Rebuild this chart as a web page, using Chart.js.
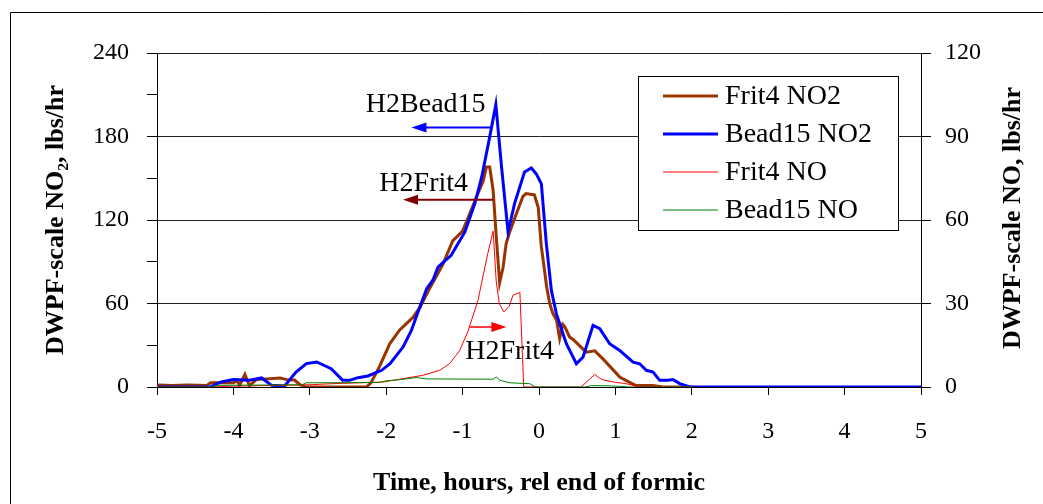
<!DOCTYPE html>
<html>
<head>
<meta charset="utf-8">
<script src="https://cdn.jsdelivr.net/npm/chart.js@4.4.0/dist/chart.umd.min.js"></script>
<style>
  body { margin: 0; background: #fff; }
  canvas { display: block; }
</style>
</head>
<body>
<canvas id="myChart" width="1043" height="504"></canvas>
<script>
// hours, rel end of formic  /  lbs/hr
const frit4_no2_t = [-5.0, -4.8, -4.6, -4.35, -4.3, -4.0, -3.95, -3.92, -3.85, -3.79, -3.7, -3.39, -3.3, -3.2, -3.13, -3.05,
  -2.26, -2.2, -2.085, -1.954, -1.823, -1.65, -1.56, -1.45, -1.34, -1.26, -1.13, -1.0, -0.91, -0.8, -0.73, -0.69, -0.645,
  -0.6, -0.558, -0.515, -0.47, -0.43, -0.38, -0.3, -0.21, -0.17, -0.06, -0.01, 0.03, 0.05, 0.1, 0.14, 0.18, 0.23, 0.27,
  0.31, 0.34, 0.4, 0.45, 0.58, 0.62, 0.73, 0.84, 1.06, 1.27, 1.49, 1.62, 2.0];
const frit4_no2 = [1.5, 1, 1.5, 1, 3, 3, 4.8, 1, 9, 1, 5.3, 6.5, 5.3, 5, 1.7, 0,
  0, 3, 15, 31, 41, 50, 57, 69, 80, 88, 105, 112, 124, 139, 148, 158, 158,
  141, 107, 75, 86, 103, 112, 124, 137, 139, 138, 129, 101, 93, 72, 60, 53, 48, 35,
  45, 43, 36, 34, 27, 25, 26, 20, 7, 1, 1, 0, 0];

const bead15_no2_t = [-5.0, -4.31, -4.16, -4.0, -3.79, -3.63, -3.5, -3.33, -3.18, -3.045, -2.91, -2.72, -2.57, -2.48,
  -2.37, -2.24, -2.06, -1.95, -1.78, -1.67, -1.56, -1.47, -1.39, -1.32, -1.15, -0.97, -0.84, -0.75, -0.645, -0.565,
  -0.49, -0.405, -0.32, -0.19, -0.1, -0.034, 0.031, 0.096, 0.162, 0.227, 0.358, 0.489, 0.576, 0.707, 0.795, 0.925,
  1.056, 1.231, 1.318, 1.405, 1.493, 1.58, 1.689, 1.754, 1.842, 1.973, 5];
const bead15_no2 = [0, 0, 3.6, 5.3, 4.8, 6.5, 1.2, 0.7, 10.8, 16.8, 18, 13.2, 4.8, 4.8,
  6.7, 7.9, 12, 16.8, 28.7, 40.7, 57.5, 70.7, 76.7, 86.3, 94.6, 111.4, 131.8, 150.9, 179.7, 203,
  158, 111.4, 131.8, 154.5, 157.4, 153, 146, 103, 69.4, 52.7, 31.1, 16.7, 21.5, 44.3, 41.9, 31.1,
  26.3, 17.9, 16.7, 12, 10.8, 4.8, 4.8, 5.3, 2.4, 0, 0];

// NO series go on the right axis (0-120)
const frit4_no_t = [-5.0, -4.3, -4.0, -3.0, -2.7, -2.04, -1.78, -1.52, -1.3, -1.17, -1.04, -0.93, -0.8, -0.67, -0.6,
  -0.56, -0.52, -0.46, -0.39, -0.34, -0.25, -0.2, 0.55, 0.73, 0.82, 0.97, 1.14, 1.27, 1.4, 2.0];
const frit4_no = [0, 0, 0.3, 0.8, 1.2, 1.8, 3, 4.2, 6, 8.4, 13, 20, 31, 48, 56,
  38, 30, 27, 29, 33, 34, 0, 0, 4.5, 2.7, 1.8, 1.2, 0.3, 0, 0];

const bead15_no_t = [-5.0, -4.3, -4.2, -3.1, -3.05, -2.1, -2.0, -1.8, -1.6, -1.47, -0.6, -0.56, -0.51, -0.38, -0.12,
  -0.05, 0.6, 0.69, 0.95, 1.2, 2.0];
const bead15_no = [0, 0, 0.6, 0.8, 1.5, 1.6, 2.2, 2.7, 3.4, 2.9, 2.8, 3.6, 2.4, 1.5, 1.2,
  0, 0, 0.5, 0.4, 0, 0];

const xTicks = [-5, 5, 1];
const yLeft = [0, 240, 60];
const yRight = [0, 120, 30];

// arrows + labels, in data units of the left axis
const notes = [
  { text: 'H2Bead15', tx: -1.483, ty: 197.3, color: '#0000FF', from: -0.632, to: -1.670, ay: 186.4, w: 2 },
  { text: 'H2Frit4', tx: -1.509, ty: 140.6, color: '#800000', from: -0.602, to: -1.780, ay: 134.6, w: 2 },
  { text: 'H2Frit4', tx: -0.384, ty: 20.4, color: '#FF0000', from: -0.907, to: -0.427, ay: 43.1, w: 1.5 }
];

function pts(t, v) {
  return t.map(function(x, i){ return {x: x, y: v[i]}; });
}

const serif = "'Liberation Serif', 'Times New Roman', serif";
Chart.defaults.font.family = serif;
Chart.defaults.color = '#000';

const extras = {
  id: 'extras',
  afterDraw: function(chart) {
    const ctx = chart.ctx;
    const xs = chart.scales.x, ys = chart.scales.y;
    ctx.save();
    // outer frame
    ctx.strokeStyle = '#000';
    ctx.lineWidth = 1;
    ctx.beginPath();
    ctx.moveTo(10.5, 504);
    ctx.lineTo(10.5, 12.5);
    ctx.lineTo(1043, 12.5);
    ctx.stroke();

    // annotations
    notes.forEach(function(n){
      const x1 = xs.getPixelForValue(n.from), x2 = xs.getPixelForValue(n.to);
      const y = ys.getPixelForValue(n.ay);
      const dir = x2 > x1 ? 1 : -1;
      ctx.strokeStyle = n.color;
      ctx.fillStyle = n.color;
      ctx.lineWidth = n.w;
      ctx.beginPath();
      ctx.moveTo(x1, y);
      ctx.lineTo(x2 - dir * 10, y);
      ctx.stroke();
      ctx.beginPath();
      ctx.moveTo(x2, y);
      ctx.lineTo(x2 - dir * 15, y - 5);
      ctx.lineTo(x2 - dir * 15, y + 5);
      ctx.closePath();
      ctx.fill();
      ctx.fillStyle = '#000';
      ctx.font = '28px ' + serif;
      ctx.textAlign = 'center';
      ctx.textBaseline = 'alphabetic';
      ctx.fillText(n.text, xs.getPixelForValue(n.tx), ys.getPixelForValue(n.ty));
    });

    // legend
    const bx = 638, by = 76, bw = 260, bh = 154;
    ctx.fillStyle = '#fff';
    ctx.fillRect(bx, by, bw, bh);
    ctx.strokeStyle = '#000';
    ctx.lineWidth = 1;
    ctx.strokeRect(bx + 0.5, by + 0.5, bw, bh);
    ctx.font = '28px ' + serif;
    ctx.textAlign = 'left';
    ctx.textBaseline = 'middle';
    chart.data.datasets.forEach(function(ds, i){
      const y = by + 20 + i * 38;
      ctx.strokeStyle = ds.borderColor;
      ctx.lineWidth = ds.borderWidth;
      ctx.beginPath();
      ctx.moveTo(bx + 25, y);
      ctx.lineTo(bx + 80, y);
      ctx.stroke();
      ctx.fillStyle = '#000';
      ctx.fillText(ds.label, bx + 87, y + 1);
    });

    // right axis title reads bottom-to-top like the left one
    ctx.translate(1013, 218);
    ctx.rotate(-Math.PI / 2);
    ctx.font = 'bold 26px ' + serif;
    ctx.textAlign = 'center';
    ctx.textBaseline = 'middle';
    ctx.fillStyle = '#000';
    ctx.fillText('DWPF-scale NO, lbs/hr', 0, 0);
    ctx.restore();
  }
};

const ctx = document.getElementById('myChart');
const config = {
  type: 'line',
  data: {
    datasets: [
      { label: 'Frit4 NO2', data: pts(frit4_no2_t, frit4_no2), borderColor: '#993300', borderWidth: 3, yAxisID: 'y', order: 4 },
      { label: 'Bead15 NO2', data: pts(bead15_no2_t, bead15_no2), borderColor: '#0000FF', borderWidth: 3, yAxisID: 'y', order: 3 },
      { label: 'Frit4 NO', data: pts(frit4_no_t, frit4_no), borderColor: '#FF0000', borderWidth: 1, yAxisID: 'y2', order: 2 },
      { label: 'Bead15 NO', data: pts(bead15_no_t, bead15_no), borderColor: '#008000', borderWidth: 1, yAxisID: 'y2', order: 1 }
    ]
  },
  options: {
    responsive: false,
    devicePixelRatio: 1,
    animation: false,
    layout: { padding: { top: 53, left: 0, right: 0, bottom: 0 } },
    elements: { point: { radius: 0 }, line: { tension: 0 } },
    plugins: { legend: { display: false }, tooltip: { enabled: false } },
    scales: {
      x: {
        type: 'linear',
        min: xTicks[0], max: xTicks[1],
        ticks: { stepSize: xTicks[2], padding: 22, font: { size: 24 }, color: '#000' },
        grid: { drawOnChartArea: false, tickLength: 8, tickColor: '#000' },
        border: { color: '#000' },
        title: { display: true, text: 'Time, hours, rel end of formic', font: { size: 26, weight: 'bold' }, padding: { top: 0, bottom: 5 } },
        afterFit: function(s){ s.height = 117; }
      },
      y: {
        position: 'left',
        min: yLeft[0], max: yLeft[1],
        ticks: {
          stepSize: yLeft[2] / 2, autoSkip: false, padding: 18, font: { size: 24 }, color: '#000',
          callback: function(v){ return v % yLeft[2] === 0 ? v : ''; }
        },
        grid: {
          color: function(c){ return c.tick && c.tick.value % yLeft[2] === 0 ? '#222' : 'rgba(0,0,0,0)'; },
          tickColor: '#000', tickLength: 10
        },
        border: { color: '#000' },
        title: { display: true, text: 'DWPF-scale NO₂, lbs/hr', font: { size: 26, weight: 'bold' }, padding: { top: 41, bottom: 0 } },
        afterFit: function(s){ s.width = 157; }
      },
      y2: {
        position: 'right',
        min: yRight[0], max: yRight[1],
        ticks: { stepSize: yRight[2], padding: 14, font: { size: 24 }, color: '#000' },
        grid: { drawOnChartArea: false, tickColor: '#000', tickLength: 10 },
        border: { color: '#000' },
        afterFit: function(s){ s.width = 122; }
      }
    }
  },
  plugins: [extras]
};

const c1 = new Chart(ctx, config);
</script>
</body>
</html>
